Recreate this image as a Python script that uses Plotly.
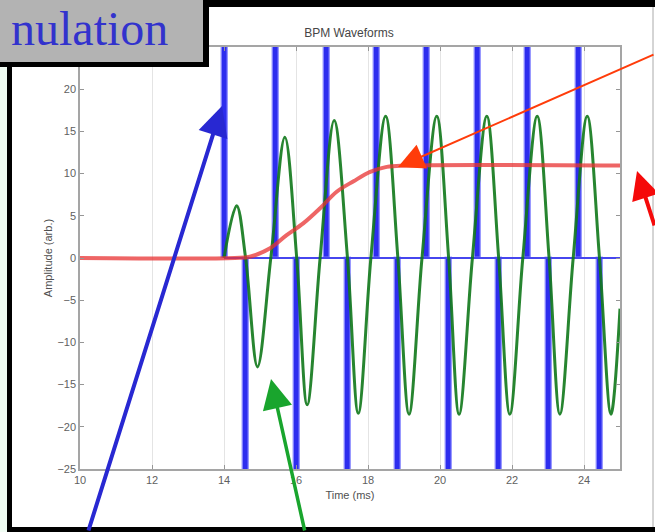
import plotly.graph_objects as go

# ---------------- data ----------------
# Blue BPM pulse train: positive and negative pulses (clipped by axis range)
pos_times = [14.03, 15.44, 16.86, 18.25, 19.64, 21.06, 22.44, 23.86]
pos_amp = [30, 30, 30, 30, 30, 30, 30, 30]
neg_times = [14.61, 16.03, 17.44, 18.83, 20.25, 21.64, 23.03, 24.44]
neg_amp = [-30, -30, -30, -30, -30, -30, -30, -30]
base_t = [14.0, 25.0]
base_y = [0, 0]

# Green filtered waveform (peaks, troughs and zero crossings)
green_t = [14.0, 14.35, 14.6, 14.93, 15.3, 15.69, 16.02, 16.31, 16.67, 17.06,
           17.43, 17.73, 18.08, 18.49, 18.83, 19.14, 19.5, 19.91, 20.24, 20.53,
           20.9, 21.3, 21.63, 21.94, 22.3, 22.70, 23.03, 23.33, 23.7, 24.09,
           24.43, 24.75, 25.0]
green_y = [0, 6.2, 0, -12.9, 0, 14.3, 0, -17.4, 0, 16.3,
           0, -18.4, 0, 16.8, 0, -18.5, 0, 16.8, 0, -18.5,
           0, 16.8, 0, -18.5, 0, 16.8, 0, -18.5, 0, 16.8,
           0, -18.5, -6.0]

# Red integrated envelope
red_t = [10.0, 14.3, 14.72, 15.28, 15.74, 16.2, 16.67, 17.13, 17.6, 18.06,
         18.52, 19.07, 25.0]
red_y = [0, 0, 0.15, 1.15, 2.7, 4.1, 5.9, 7.85, 9.1, 10.2,
         10.8, 10.95, 10.95]

x_ticks = [10, 12, 14, 16, 18, 20, 22, 24]
y_ticks = [-25, -20, -15, -10, -5, 0, 5, 10, 15, 20]

title_text = "BPM Waveforms"
x_title = "Time (ms)"
y_title = "Amplitude (arb.)"
slide_text = "nulation"

# ---------------- layout geometry ----------------
W, H = 655, 532
L, R, T, B = 80, 35, 47, 63
PW, PH = W - L - R, H - T - B


def X(px):
    return (px - L) / PW


def Y(py):
    return (H - B - py) / PH


fig = go.Figure()

bar_marker = dict(color="rgb(45,45,238)",
                  line=dict(color="rgba(140,140,255,0.8)", width=1.5))
fig.add_trace(go.Bar(x=pos_times, y=pos_amp, width=0.15, marker=bar_marker,
                     showlegend=False, hoverinfo="skip"))
fig.add_trace(go.Bar(x=neg_times, y=neg_amp, width=0.15, marker=bar_marker,
                     showlegend=False, hoverinfo="skip"))
fig.add_trace(go.Scatter(x=base_t, y=base_y, mode="lines",
                         line=dict(color="rgb(70,70,238)", width=2),
                         showlegend=False, hoverinfo="skip"))
fig.add_trace(go.Scatter(x=green_t, y=green_y, mode="lines",
                         line=dict(color="rgba(15,120,25,0.9)", width=3, shape="spline",
                                   smoothing=1.0),
                         showlegend=False, hoverinfo="skip"))
fig.add_trace(go.Scatter(x=red_t, y=red_y, mode="lines",
                         line=dict(color="rgba(232,50,50,0.75)", width=4, shape="spline"),
                         showlegend=False, hoverinfo="skip"))

tick_font = dict(family="Liberation Sans, Arial", size=11, color="rgb(95,95,95)")
axis_common = dict(showline=True, linecolor="rgb(165,165,165)", linewidth=1.5,
                   mirror="ticks", ticks="inside", ticklen=4, tickcolor="rgb(150,150,150)",
                   tickfont=tick_font, zeroline=False)

fig.update_xaxes(range=[10, 25], tickvals=x_ticks, showgrid=True,
                 gridcolor="rgb(228,228,228)", gridwidth=1,
                 title=dict(text=x_title, standoff=6,
                            font=dict(family="Liberation Sans, Arial", size=11,
                                      color="rgb(80,80,80)")),
                 **axis_common)
fig.update_yaxes(range=[-25, 25], tickvals=y_ticks, showgrid=False,
                 title=dict(text=y_title, standoff=3,
                            font=dict(family="Liberation Sans, Arial", size=11,
                                      color="rgb(80,80,80)")),
                 **axis_common)

shapes = [
    # faint left strip
    dict(type="rect", xref="paper", yref="paper", x0=X(-2), x1=X(7), y0=Y(535), y1=Y(63),
         fillcolor="rgb(240,252,243)", line=dict(width=0), layer="above"),
    # left black border
    dict(type="rect", xref="paper", yref="paper", x0=X(7), x1=X(12), y0=Y(535), y1=Y(60),
         fillcolor="black", line=dict(width=0), layer="above"),
    # bottom black border
    dict(type="rect", xref="paper", yref="paper", x0=X(7), x1=X(660), y0=Y(536), y1=Y(527),
         fillcolor="black", line=dict(width=0), layer="above"),
    # top black border
    dict(type="rect", xref="paper", yref="paper", x0=X(205), x1=X(660), y0=Y(7), y1=Y(-3),
         fillcolor="black", line=dict(width=0), layer="above"),
    # right thin gray line
    dict(type="line", xref="paper", yref="paper", x0=X(653), x1=X(653), y0=Y(527), y1=Y(7),
         line=dict(color="rgb(170,170,170)", width=1), layer="above"),
    # gray title box with black shadow
    dict(type="rect", xref="paper", yref="paper", x0=X(-5), x1=X(209), y0=Y(67), y1=Y(-5),
         fillcolor="black", line=dict(width=0), layer="above"),
    dict(type="rect", xref="paper", yref="paper", x0=X(-5), x1=X(203), y0=Y(62), y1=Y(-5),
         fillcolor="rgb(179,179,179)", line=dict(width=0), layer="above"),
]

annotations = [
    dict(xref="paper", yref="paper", x=X(169), y=Y(29), xanchor="right", yanchor="middle",
         text=slide_text, showarrow=False, borderpad=0,
         font=dict(family="Liberation Serif, Times New Roman", size=48, color="rgb(50,50,205)")),
    # blue arrow
    dict(xref="paper", yref="paper", x=X(222), y=Y(106), ax=88 - 222, ay=536 - 106,
         text="", showarrow=True, arrowhead=2, arrowsize=1.5, arrowwidth=4,
         arrowcolor="rgb(40,40,210)"),
    # green arrow
    dict(xref="paper", yref="paper", x=X(271), y=Y(379), ax=305 - 271, ay=536 - 379,
         text="", showarrow=True, arrowhead=2, arrowsize=1.7, arrowwidth=3.5,
         arrowcolor="rgb(25,165,45)"),
    # thin orange-red arrow
    dict(xref="paper", yref="paper", x=X(398), y=Y(167), ax=662 - 398, ay=54 - 167,
         text="", showarrow=True, arrowhead=2, arrowsize=2.6, arrowwidth=2,
         arrowcolor="rgb(255,60,10)"),
    # thick red arrow
    dict(xref="paper", yref="paper", x=X(637), y=Y(171), ax=24, ay=56,
         text="", showarrow=True, arrowhead=2, arrowsize=1.4, arrowwidth=4,
         arrowcolor="rgb(245,10,10)"),
]

fig.update_layout(
    width=W, height=H,
    margin=dict(l=L, r=R, t=T, b=B),
    paper_bgcolor="white", plot_bgcolor="white",
    barmode="overlay", bargap=0,
    title=dict(text=title_text, x=X(349), xref="paper", xanchor="center",
               y=1 - 33 / H, yref="container", yanchor="middle",
               font=dict(family="Liberation Sans, Arial", size=12, color="rgb(70,70,70)")),
    shapes=shapes, annotations=annotations,
)

fig.write_html("out.html")
